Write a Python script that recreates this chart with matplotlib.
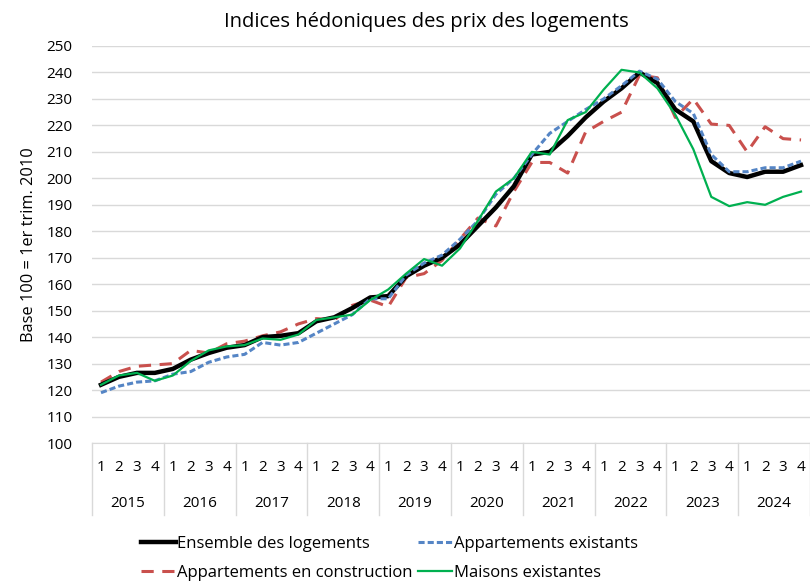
import matplotlib
matplotlib.use("Agg")
import matplotlib.pyplot as plt
import matplotlib.transforms as mtransforms

plt.rcParams['font.family'] = ['Open Sans', 'DejaVu Sans']

years = ["2015", "2016", "2017", "2018", "2019", "2020", "2021", "2022", "2023", "2024"]
quarters = ["1", "2", "3", "4"]

ensemble = [122, 125, 126.5, 126.5, 128, 131.5, 134, 136, 137, 140, 140.5, 141.5,
            146, 147.5, 151, 155, 155.5, 163, 167, 170, 175, 182, 189, 197,
            209, 210, 216, 223, 229, 234, 240, 236, 226, 221.5, 206.5, 202,
            200.5, 202.5, 202.5, 205]
appart_exist = [119, 121.5, 123, 123.5, 126, 127, 130.5, 132.5, 133.5, 138, 137, 138,
                141.5, 145, 148.5, 154.5, 154.5, 163.5, 168, 171, 177, 184, 194, 200,
                209, 217, 221.5, 226, 230, 235, 240.5, 237.5, 229, 224.5, 209, 202.5,
                202.5, 204, 204, 206.5]
appart_constr = [123, 127, 129, 129.5, 130, 135, 134, 137.5, 138.5, 140.5, 142, 145,
                 147, 146.5, 152, 154, 151.5, 162.5, 164, 169, 177, 185, 182, 195,
                 206, 206, 202, 217.5, 221.5, 225, 239, 238, 223, 230, 220.5, 220,
                 210, 219.5, 215, 214.5]
maisons = [122, 125.5, 126.5, 123.5, 125.5, 131, 135, 136.5, 137, 139.5, 139, 141,
           146.5, 147.5, 148.5, 154, 158, 164, 169.5, 167, 173.5, 184, 195, 200,
           210, 209, 222, 225, 233.5, 241, 240, 234, 224, 211, 193, 189.5,
           191, 190, 193, 195]

x = list(range(len(ensemble)))

fig = plt.figure(figsize=(8.1, 5.83), dpi=100)
ax = fig.add_axes([0.1136, 0.2401, 0.8864, 0.681])

l1, = ax.plot(x, ensemble, color="black", lw=3.2, solid_joinstyle="round", zorder=3,
              label="Ensemble des logements")
l2, = ax.plot(x, appart_exist, color="#5585c5", lw=2.2, dashes=(2, 1), zorder=4,
              label="Appartements existants")
l3, = ax.plot(x, appart_constr, color="#c9504d", lw=2.2, dashes=(4, 2.8), zorder=2,
              label="Appartements en construction")
l4, = ax.plot(x, maisons, color="#00b050", lw=1.6, zorder=5,
              label="Maisons existantes")

ax.set_xlim(-0.5, len(x) - 0.5)
ax.set_ylim(100, 250)
ax.set_yticks(range(100, 251, 10))
ax.grid(axis="y", color="#d9d9d9", lw=1)
ax.set_axisbelow(True)
for s in ["top", "right", "left"]:
    ax.spines[s].set_visible(False)
ax.spines["bottom"].set_color("#d9d9d9")
ax.tick_params(axis="y", length=0, labelsize=11, pad=14)
ax.tick_params(axis="x", length=0, labelsize=11, pad=12)
ax.set_xticks(x)
ax.set_xticklabels(quarters * len(years))

# year labels + separators under the quarter ticks
trans = mtransforms.blended_transform_factory(ax.transData, ax.transAxes)
for i, yr in enumerate(years):
    ax.text(i * 4 + 1.5, -0.152, yr, transform=trans, ha="center", va="center", fontsize=11)
for i in range(len(years) + 1):
    ax.plot([i * 4 - 0.5, i * 4 - 0.5], [0, -0.182], transform=trans, color="#d9d9d9",
            lw=1, clip_on=False)

ax.set_ylabel("Base 100 = 1er trim. 2010", fontsize=11.8, labelpad=7)
fig.text(0.526, 0.963, "Indices hédoniques des prix des logements", ha="center",
         va="center", fontsize=14.5)

fig.legend([l1, l3, l2, l4], [l1.get_label(), l3.get_label(), l2.get_label(), l4.get_label()],
           ncol=2, loc="lower left", bbox_to_anchor=(0.156, -0.022), frameon=False,
           fontsize=12, handlelength=2.05, handletextpad=0.1, columnspacing=0.3,
           labelspacing=0.79)

fig.savefig("out.png", dpi=100)
